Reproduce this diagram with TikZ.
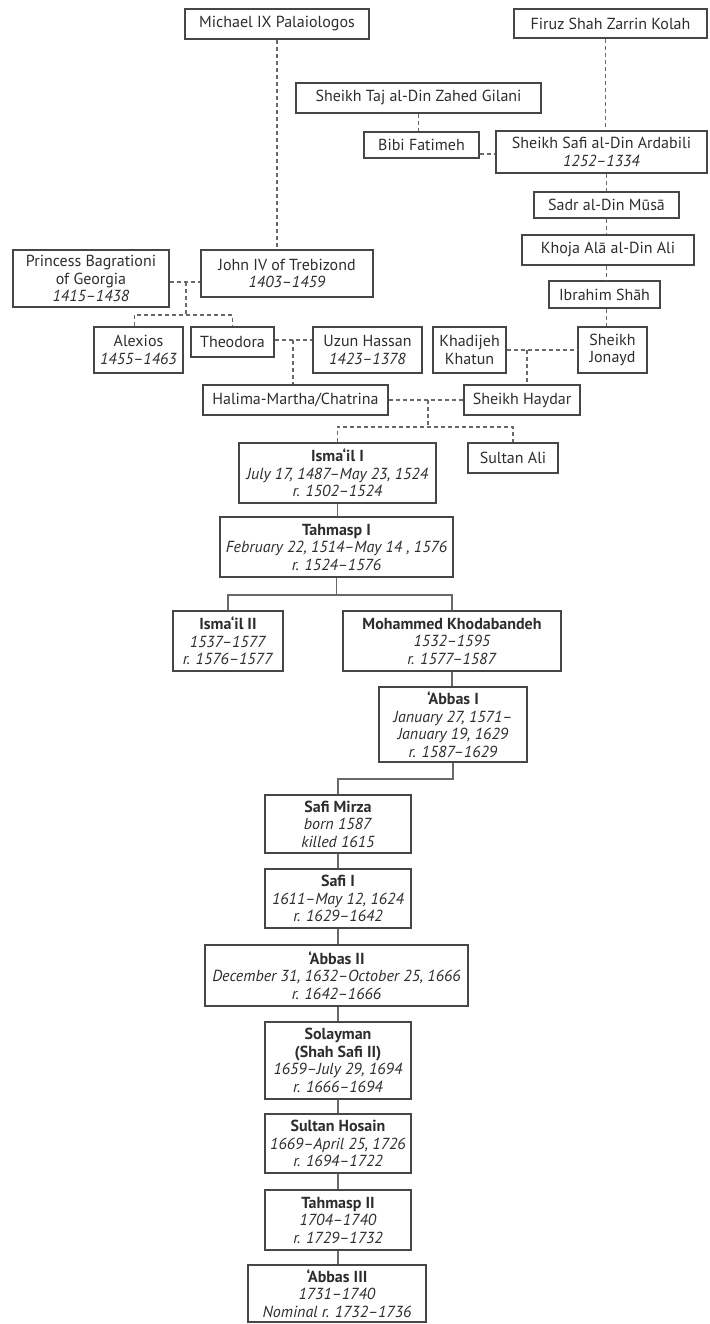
\documentclass[tikz,border=0pt]{standalone}
\usepackage{fontspec}
\setmainfont{PT Sans}
\usepackage{tikz}
\definecolor{boxline}{RGB}{70,70,70}
\definecolor{namegray}{RGB}{45,45,45}
\definecolor{linkgray}{RGB}{105,105,105}
\tikzset{
  pbox/.style 2 args={draw=boxline, line width=1.4pt, align=center,
    text=namegray, font=\fontsize{16}{17.5}\selectfont, inner sep=2pt,
    minimum width=#1pt, minimum height=#2pt},
  dashline/.style={linkgray, line width=1.1pt, dash pattern=on 4pt off 3pt},
  solidline/.style={linkgray, line width=1.7pt}
}

\begin{document}
\begin{tikzpicture}[x=1pt, y=-1pt]
    \useasboundingbox (0,0) rectangle (709,1324);

    % Byzantine and Georgian side
    \node[pbox={184}{30}] at (277,24) (michael) {Michael IX Palaiologos};
    \node[pbox={156}{57}] at (91,278.5) (princess) {Princess Bagrationi\\of Georgia\\\textit{1415--1438}};
    \node[pbox={172}{47}] at (287,273.5) (john) {John IV of Trebizond\\\textit{1403--1459}};
    \node[pbox={89}{46}] at (138.5,350) (alexios) {Alexios\\\textit{1455--1463}};
    \node[pbox={83}{30}] at (232.5,342) (theodora) {Theodora};

    % Safavid sheikhs
    \node[pbox={193}{29}] at (610.5,23.5) (firuz) {Firuz Shah Zarrin Kolah};
    \node[pbox={245}{30}] at (418.5,98) (taj) {Sheikh Taj al-Din Zahed Gilani};
    \node[pbox={115}{26}] at (421.5,145) (bibi) {Bibi Fatimeh};
    \node[pbox={211}{42}] at (601.5,152) (safi) {Sheikh Safi al-Din Ardabili\\\textit{1252--1334}};
    \node[pbox={145}{26}] at (606.5,205) (sadr) {Sadr al-Din Mūsā};
    \node[pbox={172}{30}] at (608,250) (khoja) {Khoja Alā al-Din Ali};
    \node[pbox={111}{27}] at (604.5,294.5) (ibrahim) {Ibrahim Shāh};
    \node[pbox={69}{46}] at (612.5,350) (jonayd) {Sheikh\\Jonayd};
    \node[pbox={73}{46}] at (469.5,350) (khadijeh) {Khadijeh\\Khatun};
    \node[pbox={109}{46}] at (367.5,350) (uzun) {Uzun Hassan\\\textit{1423--1378}};
    \node[pbox={185}{30}] at (295.5,400) (halima) {Halima-Martha/Chatrina};
    \node[pbox={116}{30}] at (522,400) (haydar) {Sheikh Haydar};
    \node[pbox={90}{30}] at (513,458) (sultanali) {Sultan Ali};

    % Shahs
    \node[pbox={197}{60}] at (337.5,473) (ismail1) {\textbf{Isma‘il I}\\\textit{July 17, 1487--May 23, 1524}\\\textit{r. 1502--1524}};
    \node[pbox={233}{60}] at (336.5,547) (tahmasp1) {\textbf{Tahmasp I}\\\textit{February 22, 1514--May 14 , 1576}\\\textit{r. 1524--1576}};
    \node[pbox={110}{60}] at (228,641) (ismail2) {\textbf{Isma‘il II}\\\textit{1537--1577}\\\textit{r. 1576--1577}};
    \node[pbox={218}{60}] at (452,641) (mohammed) {\textbf{Mohammed Khodabandeh}\\\textit{1532--1595}\\\textit{r. 1577--1587}};
    \node[pbox={148}{75}] at (453,724.5) (abbas1) {\textbf{‘Abbas I}\\\textit{January 27, 1571--}\\\textit{January 19, 1629}\\\textit{r. 1587--1629}};
    \node[pbox={146}{58}] at (338,824) (safimirza) {\textbf{Safi Mirza}\\\textit{born 1587}\\\textit{killed 1615}};
    \node[pbox={146}{59}] at (338,898.5) (safi1) {\textbf{Safi I}\\\textit{1611--May 12, 1624}\\\textit{r. 1629--1642}};
    \node[pbox={263}{61}] at (336.5,975.5) (abbas2) {\textbf{‘Abbas II}\\\textit{December 31, 1632--October 25, 1666}\\\textit{r. 1642--1666}};
    \node[pbox={146}{77}] at (338,1060.5) (solayman) {\textbf{Solayman}\\\textbf{(Shah Safi II)}\\\textit{1659--July 29, 1694}\\\textit{r. 1666--1694}};
    \node[pbox={146}{59}] at (338,1143.5) (hosain) {\textbf{Sultan Hosain}\\\textit{1669--April 25, 1726}\\\textit{r. 1694--1722}};
    \node[pbox={146}{60}] at (338,1220) (tahmasp2) {\textbf{Tahmasp II}\\\textit{1704--1740}\\\textit{r. 1729--1732}};
    \node[pbox={178}{57}] at (337,1293.5) (abbas3) {\textbf{‘Abbas III}\\\textit{1731--1740}\\\textit{Nominal r. 1732--1736}};

    % Marriage points
    \coordinate (pj) at (186,282);
    \coordinate (pjkids) at (186,315);
    \coordinate (tu) at (293,340);
    \coordinate (kj) at (527,350);
    \coordinate (hh) at (428,400);
    \coordinate (hhkids) at (428,427);
    \coordinate (tkids) at (336.5,595);
    \coordinate (akids) at (453,779);

    % Dashed descent
    \draw[dashline] (michael.south) -- (michael.south |- john.north);
    \draw[dashline] ([xshift=-5pt]firuz.south) -- ([xshift=-5pt]firuz.south |- safi.north);
    \draw[dashline] (taj.south) -- (taj.south |- bibi.north);
    \draw[dashline] ([yshift=-9pt]bibi.east) -- ([yshift=-9pt]bibi.east -| safi.west);
    \foreach \a/\b in {safi/sadr, sadr/khoja, khoja/ibrahim, ibrahim/jonayd}
        \draw[dashline] (\a.south -| sadr) -- (\b.north -| sadr);
    \draw[dashline] (princess.east |- pj) -- (john.west |- pj);
    \draw[dashline] (pj) -- (pjkids);
    \draw[dashline] ([xshift=-4pt]alexios.north) |- (pjkids) -| (theodora.north);
    \draw[dashline] (theodora.east |- tu) -- (uzun.west |- tu);
    \draw[dashline] (tu) -- (tu |- halima.north);
    \draw[dashline] (khadijeh.east) -- (jonayd.west);
    \draw[dashline] (kj) -- (kj |- haydar.north);
    \draw[dashline] (halima.east) -- (haydar.west);
    \draw[dashline] (hh) -- (hhkids);
    \draw[dashline] (ismail1.north) |- (hhkids) -| (sultanali.north);

    % Solid descent
    \draw[solidline] (ismail1.south) -- (ismail1.south |- tahmasp1.north);
    \draw[solidline] (tahmasp1.south) -- (tkids);
    \draw[solidline] (ismail2.north) |- (tkids) -| (mohammed.north);
    \draw[solidline] (mohammed.south) -- (mohammed.south |- abbas1.north);
    \draw[solidline] (abbas1.south) -- (akids) -| (safimirza.north);
    \foreach \a/\b in {safimirza/safi1, safi1/abbas2, abbas2/solayman, solayman/hosain, hosain/tahmasp2, tahmasp2/abbas3}
        \draw[solidline] (\a.south -| safi1) -- (\b.north -| safi1);
\end{tikzpicture}
\end{document}
